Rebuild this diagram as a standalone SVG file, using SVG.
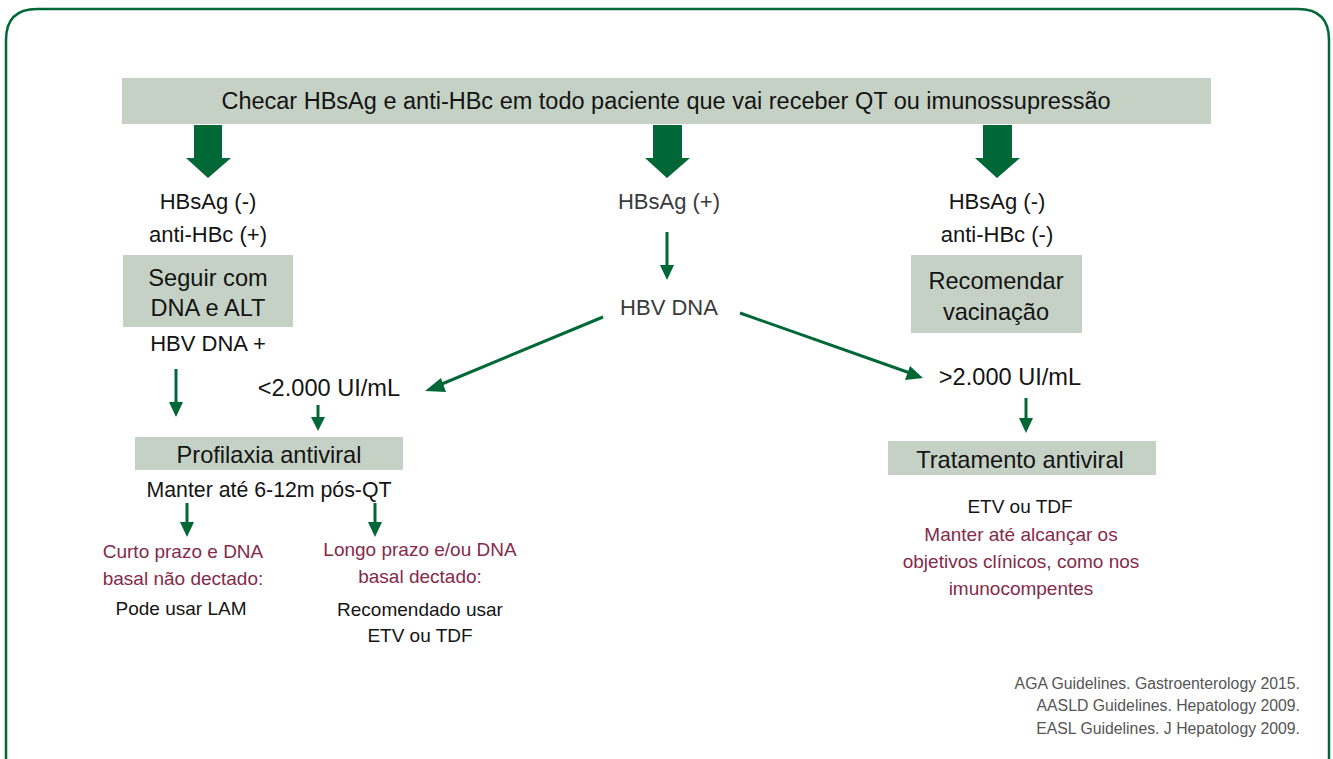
<svg xmlns="http://www.w3.org/2000/svg" width="1333" height="759" viewBox="0 0 1333 759">
<style>
.box{fill:#c5d1c5}
.t{font-family:"Liberation Sans",Arial,sans-serif;font-size:22px;fill:#141414;text-anchor:middle}
.b{font-family:"Liberation Sans",Arial,sans-serif;font-size:23.6px;fill:#141414;text-anchor:middle}
.l{font-family:"Liberation Sans",Arial,sans-serif;font-size:22px;fill:#3a3a3a;text-anchor:middle}
.s{font-family:"Liberation Sans",Arial,sans-serif;font-size:19px;fill:#141414;text-anchor:middle}
.r{font-family:"Liberation Sans",Arial,sans-serif;font-size:19px;fill:#862a4a;text-anchor:middle}
.ref{font-family:"Liberation Sans",Arial,sans-serif;font-size:15.8px;fill:#555;text-anchor:end}
.big{fill:#006837}
.ln{stroke:#006837;stroke-width:3;fill:none}
.hd{fill:#006837}
</style>
<path d="M6,760 L6,40 Q6,9 37,9 L1298,9 Q1329,9 1329,40 L1329,760" fill="none" stroke="#006837" stroke-width="2.5"/>
<g id="top"><rect class="box" x="122" y="78" width="1089" height="46"/>
<text class="t" x="666" y="109" style="font-size:23.5px">Checar HBsAg e anti-HBc em todo paciente que vai receber QT ou imunossupressão</text></g>
<g id="connectors">
<polygon class="big" points="194,125 222,125 222,158 231,158 208,178 186,158 194,158"/>
<polygon class="big" points="653,125 682,125 682,158 690,158 667,178 645,158 653,158"/>
<polygon class="big" points="983,125 1012,125 1012,158 1020,158 997,178 975,158 983,158"/>
<line class="ln" x1="667" y1="232" x2="667" y2="266"/><polygon class="hd" points="660,265 674,265 667,280"/>
<line class="ln" x1="176" y1="369" x2="176" y2="403"/><polygon class="hd" points="169,402 183,402 176,417"/>
<line class="ln" x1="318" y1="405" x2="318" y2="419"/><polygon class="hd" points="311,417 325,417 318,431"/>
<line class="ln" x1="187" y1="503" x2="187" y2="523"/><polygon class="hd" points="180,522 194,522 187,537"/>
<line class="ln" x1="375" y1="503" x2="375" y2="523"/><polygon class="hd" points="368,522 382,522 375,537"/>
<line class="ln" x1="1026" y1="398" x2="1026" y2="419"/><polygon class="hd" points="1019,418 1033,418 1026,433"/>
<line class="ln" x1="603" y1="317" x2="437" y2="386"/><polygon class="hd" points="425,391 441,378 446,392"/>
<line class="ln" x1="740" y1="313" x2="910" y2="373"/><polygon class="hd" points="923,378 905,380 910,366"/>
</g>
<g id="left">
<text class="t" x="208" y="209">HBsAg (-)</text>
<text class="t" x="208" y="242">anti-HBc (+)</text>
<rect class="box" x="123" y="255" width="170" height="72"/>
<text class="b" x="208" y="286">Seguir com</text>
<text class="b" x="208" y="316">DNA e ALT</text>
<text class="t" x="208" y="351">HBV DNA +</text>
</g>
<g id="low"><text class="b" x="329" y="396">&lt;2.000 UI/mL</text></g>
<g id="prof">
<rect class="box" x="135" y="437" width="268" height="33"/>
<text class="b" x="269" y="463">Profilaxia antiviral</text>
<text class="s" x="269" y="497" style="font-size:21.3px">Manter até 6-12m pós-QT</text>
</g>
<g id="short">
<text class="r" x="183" y="558">Curto prazo e DNA</text>
<text class="r" x="183" y="585">basal não dectado:</text>
<text class="s" x="181" y="615">Pode usar LAM</text>
</g>
<g id="long">
<text class="r" x="420" y="556">Longo prazo e/ou DNA</text>
<text class="r" x="420" y="583">basal dectado:</text>
<text class="s" x="420" y="616">Recomendado usar</text>
<text class="s" x="420" y="642">ETV ou TDF</text>
</g>
<g id="mid">
<text class="l" x="669" y="209">HBsAg (+)</text>
<text class="l" x="669" y="315">HBV DNA</text>
</g>
<g id="right">
<text class="t" x="997" y="209">HBsAg (-)</text>
<text class="t" x="997" y="242">anti-HBc (-)</text>
<rect class="box" x="911" y="255" width="171" height="78"/>
<text class="b" x="996" y="289">Recomendar</text>
<text class="b" x="996" y="320">vacinação</text>
</g>
<g id="high"><text class="b" x="1010" y="385">&gt;2.000 UI/mL</text></g>
<g id="trat">
<rect class="box" x="888" y="441" width="268" height="34"/>
<text class="b" x="1020" y="468">Tratamento antiviral</text>
<text class="s" x="1020" y="513">ETV ou TDF</text>
<text class="r" x="1021" y="541">Manter até alcançar os</text>
<text class="r" x="1021" y="568">objetivos clínicos, como nos</text>
<text class="r" x="1021" y="595">imunocompentes</text>
</g>
<g id="refs">
<text class="ref" x="1300" y="689">AGA Guidelines. Gastroenterology 2015.</text>
<text class="ref" x="1300" y="711">AASLD Guidelines. Hepatology 2009.</text>
<text class="ref" x="1300" y="734">EASL Guidelines. J Hepatology 2009.</text>
</g>
</svg>
